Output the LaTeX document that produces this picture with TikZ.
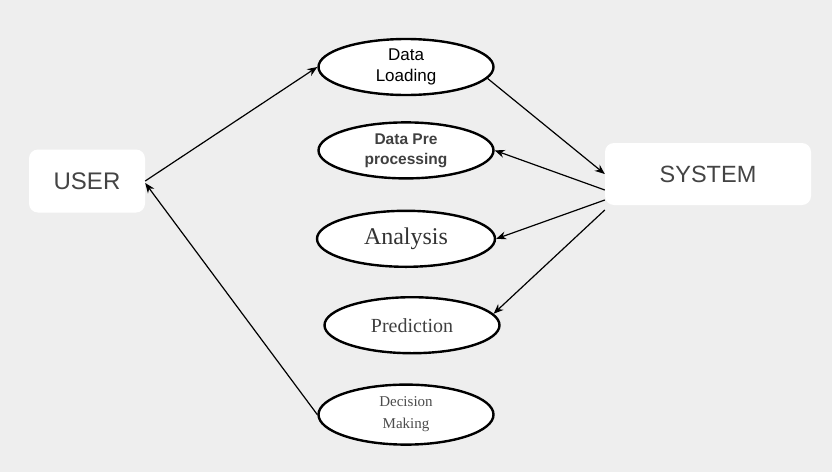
\documentclass[tikz,border=0pt]{standalone}
\usepackage{xcolor}
\usepackage{fontspec}
\setmainfont{Liberation Sans}
\newfontfamily\timesface{Liberation Serif}
\usepackage{tikz}
\usetikzlibrary{arrows.meta,positioning,shapes.geometric}

\definecolor{slide}{HTML}{EEEEEE}
\definecolor{boxtext}{HTML}{444444}

\begin{document}
\begin{tikzpicture}[x=1pt, y=-1pt, node distance=25pt, auto]
    % Styles
    \tikzstyle{actor} = [rectangle, fill=white, rounded corners=9pt, text=boxtext, inner sep=0pt]
    \tikzstyle{usecase} = [ellipse, draw, line width=2.4pt, fill=white, minimum width=175pt, minimum height=56pt, inner sep=0pt, align=center]
    \tikzstyle{arrow} = [line width=1.2pt,-{Stealth[length=10pt,width=8pt]}]

    % Slide background
    \fill[slide] (0,0) rectangle (832,472);
    \useasboundingbox (0,0) rectangle (832,472);

    % Nodes - actors
    \node [actor, minimum width=116pt, minimum height=63pt, font=\fontsize{24}{26}\selectfont] (user) at (87,181) {USER};
    \node [actor, minimum width=206pt, minimum height=62pt, font=\fontsize{23.5}{25}\selectfont] (system) at (708,174) {SYSTEM};

    % Nodes - use cases
    \node [usecase, font=\fontsize{17}{21}\selectfont] (loading) at (406,67) {Data\\Loading};
    \node [usecase, below=of loading, text=black!75, font=\bfseries\fontsize{15.5}{20}\selectfont] (preproc) {Data Pre\\processing};
    \node [usecase, below=30pt of preproc, minimum width=178pt, text=black!80, font=\timesface\fontsize{24}{26}\selectfont] (analysis) {Analysis};
    \node [usecase, below=28pt of analysis, xshift=6pt, text=black!75, font=\timesface\fontsize{20}{22}\selectfont] (predict) {Prediction};
    \node [usecase, below=29pt of predict, xshift=-6pt, minimum height=60pt, text=black!70, font=\timesface\fontsize{15}{22}\selectfont] (decide) {Decision\\Making};

    % Connectors
    \draw[arrow] (user.east) -- (loading.west);
    \draw[arrow] (loading.-8) -- (system.west);
    \draw[arrow] ([yshift=-16pt]system.west) -- (preproc.east);
    \draw[arrow] ([yshift=-26pt]system.west) -- (analysis.east);
    \draw[arrow] ([yshift=-36pt]system.west) -- (predict.8);
    \draw[arrow] (decide.west) -- ([yshift=-2pt]user.east);

\end{tikzpicture}
\end{document}
